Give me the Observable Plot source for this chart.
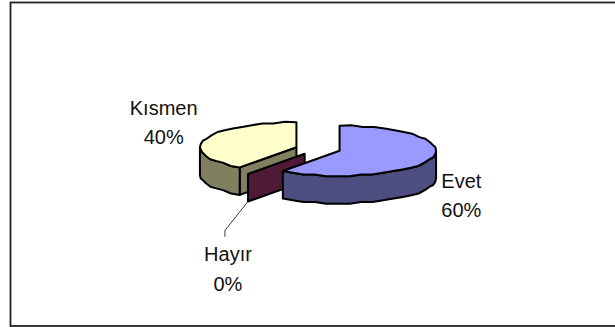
<!DOCTYPE html>
<html>
<head>
<meta charset="utf-8">
<script src="https://cdn.jsdelivr.net/npm/d3@7"></script>
<script src="https://cdn.jsdelivr.net/npm/@observablehq/plot@0.6"></script>
<style>
  html, body { margin: 0; padding: 0; background: #fff; }
  svg { display: block; }
</style>
</head>
<body>
<div id="chart"></div>
<script>
// Survey answers, in the order the slices run clockwise from twelve o'clock.
const categories = ["Evet", "Hayır", "Kısmen"];
const shares = [60, 0, 40];
const topColors = ["#9999ff", "#993366", "#ffffcc"];
const wallColors = ["#4d4d80", "#4f1a36", "#808060"];

// Pie drawing parameters, in pixels.
const W = 615, H = 327;
const cx = 317.5, cy = 148.5, rx = 96.5, ry = 25;
const depth = 27.5 / ry;    // wall height in radius units of the y scale
const explode = 0.235;      // slices pulled away from the centre
const step = 7 * Math.PI / 180;
const rimGrid = 1.7 / ry;   // the rim is drawn on a coarse grid, giving its stepped outline

const arcs = d3.pie().sort(null).value(d => d)(shares);
const pointAt = (a, o, drop = 0) => ({
  x: o.x + Math.sin(a),
  y: o.y + Math.cos(a) - drop
});
const snapped = (a, o, drop) => {
  const p = pointAt(a, o, 0);
  return {x: p.x, y: Math.round(p.y / rimGrid) * rimGrid - drop};
};
const arcPoints = (a0, a1, o, drop = 0) => {
  const n = Math.max(1, Math.round((a1 - a0) / step));
  return d3.range(n + 1).map(i =>
    i === 0 || i === n
      ? pointAt(a0 + (a1 - a0) * i / n, o, drop)
      : snapped(a0 + (a1 - a0) * i / n, o, drop));
};

const marks = [
  Plot.frame({stroke: "#222", strokeWidth: 1.8, insetLeft: 10, insetTop: 2, insetRight: -6, insetBottom: 1.5})
];
const slices = categories.map((name, i) => {
  const a0 = arcs[i].startAngle, a1 = arcs[i].endAngle, mid = (a0 + a1) / 2;
  return {name, i, a0, a1, mid, share: shares[i],
          o: {x: explode * Math.sin(mid), y: explode * Math.cos(mid)}};
});

// Painted back to front: Kısmen, then the empty Hayır wedge, then Evet.
for (const s of [slices[2], slices[1], slices[0]]) {
  const sharedLine = {x: "x", y: "y", stroke: "#000", strokeWidth: 2,
                      strokeLinejoin: "round", curve: "linear-closed"};
  const wall = {...sharedLine, fill: wallColors[s.i]};
  const apex = {x: s.o.x, y: s.o.y};
  const apexLow = {x: s.o.x, y: s.o.y - depth};
  // The cut face that looks towards the viewer.
  if (s.a0 > Math.PI) {
    marks.push(Plot.line([apex, pointAt(s.a0, s.o), pointAt(s.a0, s.o, depth), apexLow], wall));
  }
  // The rim, limited to the front half of the ellipse.
  const f0 = Math.max(s.a0, Math.PI / 2), f1 = Math.min(s.a1, 3 * Math.PI / 2);
  if (f1 > f0) {
    marks.push(Plot.line([...arcPoints(f0, f1, s.o), ...arcPoints(f0, f1, s.o, depth).reverse()], wall));
  }
  if (s.a1 > s.a0) {
    marks.push(Plot.line([apex, ...arcPoints(s.a0, s.a1, s.o)], {...sharedLine, fill: topColors[s.i]}));
  }
}

// Labels sit at pixel offsets from the foot of each slice's rim.
const labelOffsets = {Evet: [30, 7], "Hayır": [-20, 65], "Kısmen": [-41, -19.5]};
const pxX = d => d / rx, pxY = d => -d / ry;
const labels = slices.map(s => {
  const p = pointAt(s.mid, s.o, s.name === "Kısmen" ? 0 : depth);
  const [dx, dy] = labelOffsets[s.name];
  return {x: p.x + pxX(dx), y: p.y + pxY(dy), text: `${s.name}\n${s.share}%`};
});

// Leader from the empty wedge's foot down to its label.
const hayir = slices[1];
const foot = pointAt(hayir.a0, hayir.o, depth);
marks.push(Plot.line([
  foot,
  {x: foot.x + pxX(-23), y: foot.y + pxY(29)},
  {x: foot.x + pxX(-23), y: foot.y + pxY(35)}
], {x: "x", y: "y", stroke: "#222", strokeWidth: 0.9}));

marks.push(Plot.text(labels, {
  x: "x", y: "y", text: "text", fill: "#111", fontSize: 20, lineHeight: 1.48,
  fontFamily: "Liberation Sans, Arial, sans-serif", textAnchor: "middle"
}));

const chart = Plot.plot({
  width: W, height: H, margin: 0,
  x: {domain: [-cx / rx, (W - cx) / rx], range: [0, W], axis: null},
  y: {domain: [cy / ry, (cy - H) / ry], range: [0, H], axis: null},
  marks
});
chart.style.background = "#fff";
document.getElementById("chart").append(chart);
</script>
</body>
</html>
